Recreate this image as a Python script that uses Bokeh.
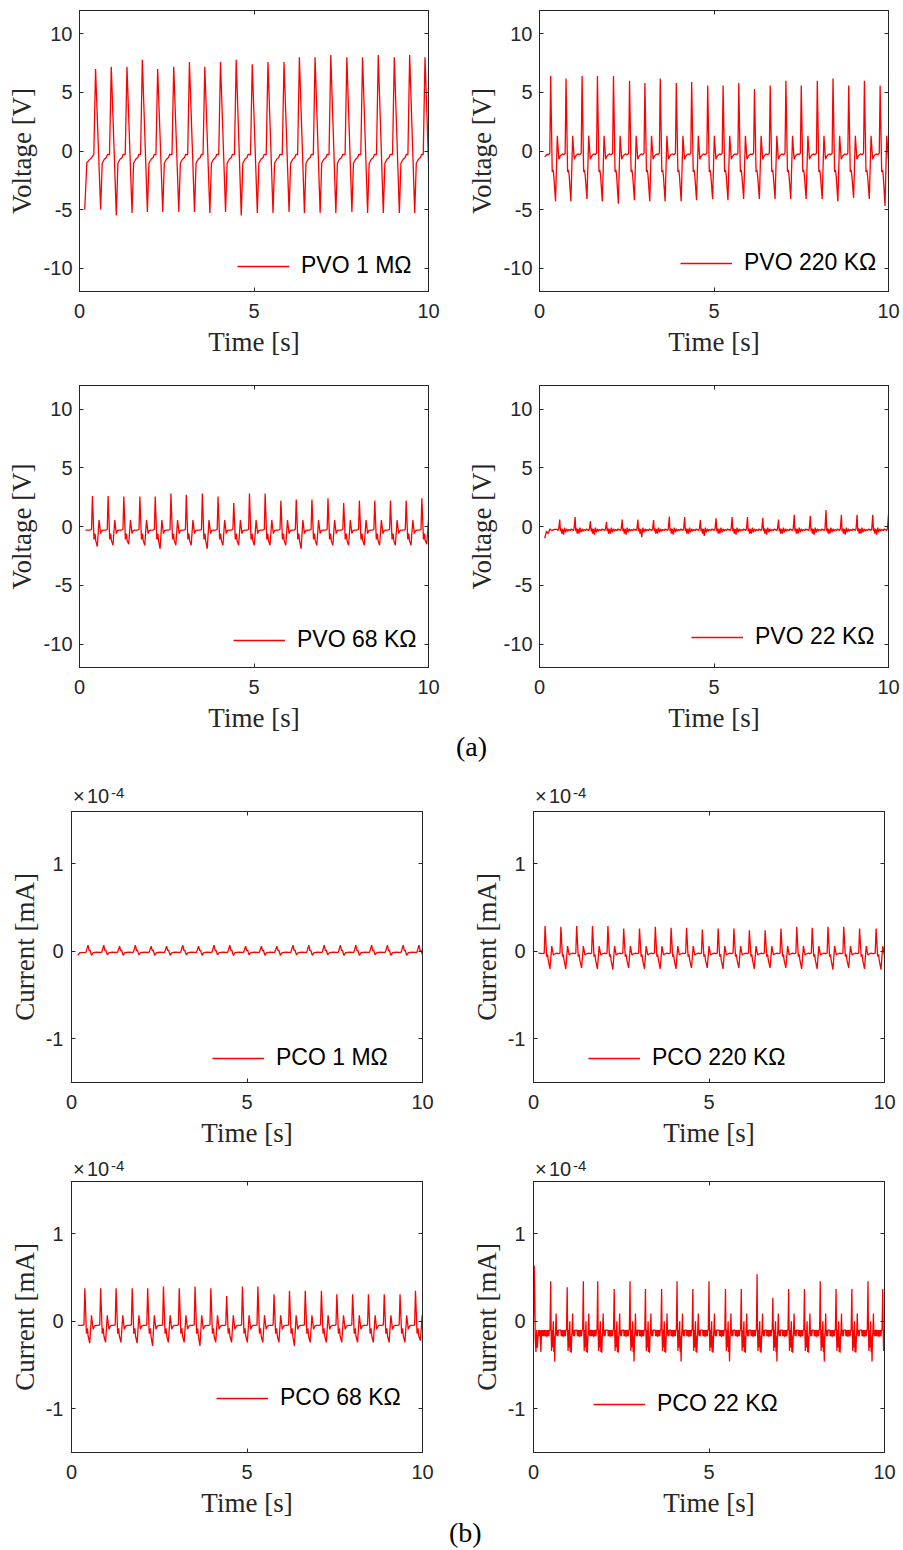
from bokeh.plotting import figure
from bokeh.models import Range1d, FixedTicker, LinearAxis, Legend, LegendItem, Div
from bokeh.layouts import column, row
from bokeh.embed import file_html
from bokeh.resources import INLINE

# ---------------- axis ticks ----------------
X_TICKS = [0, 5, 10]
V_TICKS = [-10, -5, 0, 5, 10]
I_TICKS = [-1, 0, 1]          # current in units of 1e-4 mA
V_RANGE = (-12, 12)
I_RANGE = (-1.5, 1.6)

# ---------------- Panel 1: PVO 1 MOhm (V) ----------------
P1_LABEL = "PVO 1 MΩ"
P1_PEAK_T = [0.46, 0.91, 1.36, 1.80, 2.24, 2.70, 3.15, 3.59, 4.04, 4.49, 4.95, 5.40, 5.86, 6.30, 6.75, 7.20, 7.66, 8.11, 8.56, 9.02, 9.46, 9.90]
P1_PEAK_V = [7.0, 7.2, 7.2, 7.8, 7.0, 7.2, 7.6, 7.2, 7.6, 7.8, 7.4, 7.6, 7.6, 8.0, 8.0, 8.2, 8.0, 8.0, 8.2, 8.0, 8.2, 8.0]
P1_TROUGH_V = [-5.0, -5.5, -5.3, -5.2, -5.2, -5.2, -5.2, -5.3, -5.2, -5.5, -5.3, -5.3, -5.2, -5.3, -5.3, -5.3, -5.2, -5.3, -5.3, -5.3, -5.3]
P1_SHAPE_DT = [-0.05, 0.0, 0.145, 0.19, 0.25, 0.31, 0.34]
P1_SHAPE_V = [-0.3, "peak", "trough", -1.05, -0.7, -0.55, -0.3]
P1_START_T = [0.15, 0.21, 0.27, 0.35]
P1_START_V = [-5.0, -1.0, -0.8, -0.55]
P1_END_T = [10.0]
P1_END_V = [-1.0]

# ---------------- Panel 2: PVO 220 KOhm (V) ----------------
P2_LABEL = "PVO 220 KΩ"
P2_PEAK_T = [0.32, 0.76, 1.22, 1.66, 2.12, 2.58, 3.02, 3.46, 3.92, 4.36, 4.82, 5.26, 5.71, 6.16, 6.61, 7.06, 7.50, 7.96, 8.41, 8.86, 9.31, 9.76]
P2_PEAK_V = [6.4, 6.2, 6.4, 6.4, 6.4, 6.0, 5.8, 6.2, 5.8, 5.9, 5.6, 5.6, 5.8, 5.3, 5.6, 6.0, 5.6, 6.0, 6.2, 5.6, 6.0, 5.6]
P2_TROUGH_V = [-4.3, -4.3, -4.1, -4.3, -4.5, -4.2, -4.3, -4.3, -4.3, -4.2, -4.1, -4.2, -4.1, -4.1, -4.1, -4.1, -4.1, -4.1, -4.3, -4.0, -4.1, -4.7]
P2_SHAPE_DT = [-0.06, -0.025, 0.0, 0.045, 0.07, 0.09, 0.14, 0.19, 0.235, 0.27, 0.30, 0.34, 0.37]
P2_SHAPE_V = [-0.3, -0.2, "peak", -1.8, -1.6, -2.1, "trough", 1.3, -0.7, -0.45, -0.35, -0.25, -0.3]
P2_START_T = [0.15, 0.21]
P2_START_V = [-0.5, -0.3]
P2_END_T = []
P2_END_V = []

# ---------------- Panel 3: PVO 68 KOhm (V) ----------------
P3_LABEL = "PVO 68 KΩ"
P3_PEAK_T = [0.37, 0.82, 1.27, 1.73, 2.17, 2.62, 3.06, 3.52, 3.97, 4.42, 4.87, 5.32, 5.77, 6.21, 6.66, 7.12, 7.57, 8.02, 8.46, 8.91, 9.36, 9.81]
P3_PEAK_V = [2.6, 2.6, 2.55, 2.55, 2.55, 2.8, 2.7, 2.8, 2.55, 2.0, 2.8, 2.8, 2.2, 2.3, 2.3, 2.4, 2.0, 2.2, 2.2, 2.2, 2.2, 2.4]
P3_TROUGH_V = [-1.7, -1.6, -1.5, -1.6, -1.9, -1.6, -1.6, -1.9, -1.6, -1.6, -1.6, -1.6, -1.6, -1.9, -1.6, -1.6, -1.6, -1.6, -1.6, -1.6, -1.6, -1.5]
P3_SHAPE_DT = [-0.06, -0.025, 0.0, 0.045, 0.075, 0.095, 0.14, 0.19, 0.235, 0.27, 0.32, 0.37]
P3_SHAPE_V = [-0.3, -0.25, "peak", -1.1, -0.6, -1.2, "trough", 0.55, -0.6, -0.35, -0.3, -0.3]
P3_START_T = [0.17]
P3_START_V = [-0.3]
P3_END_T = []
P3_END_V = []

# ---------------- Panel 4: PVO 22 KOhm (V) ----------------
P4_LABEL = "PVO 22 KΩ"
P4_PEAK_T = [0.58, 1.02, 1.46, 1.92, 2.37, 2.82, 3.27, 3.72, 4.16, 4.61, 5.06, 5.52, 5.96, 6.40, 6.85, 7.30, 7.76, 8.21, 8.65, 9.10, 9.55, 10.0]
P4_PEAK_V = [0.6, 0.8, 0.45, 0.4, 0.6, 0.6, 0.55, 0.85, 0.8, 0.55, 0.7, 0.8, 0.8, 0.75, 0.6, 1.0, 0.9, 1.4, 1.0, 1.0, 1.0, 1.0]
P4_TROUGH_V = [-0.7, -0.6, -0.7, -0.6, -0.7, -0.9, -0.6, -0.7, -0.6, -0.8, -0.6, -0.7, -0.6, -0.7, -0.6, -0.6, -0.7, -0.6, -0.7, -0.6, -0.7, -0.6]
P4_SHAPE_DT = [-0.08, -0.05, -0.03, 0.0, 0.02, 0.04, 0.06, 0.085, 0.11, 0.14, 0.17, 0.2, 0.23, 0.26, 0.3, 0.33, 0.36]
P4_SHAPE_V = [-0.25, -0.35, -0.2, "peak", -0.4, -0.15, -0.6, -0.2, "trough", -0.1, -0.5, -0.2, -0.4, -0.25, -0.35, -0.2, -0.3]
P4_START_T = [0.15, 0.2, 0.25, 0.3, 0.35, 0.42]
P4_START_V = [-1.0, -0.4, -0.6, -0.2, -0.35, -0.25]
P4_END_T = []
P4_END_V = []

# ---------------- Panel 5: PCO 1 MOhm (x1e-4 mA) ----------------
P5_LABEL = "PCO 1 MΩ"
P5_PEAK_T = [0.47, 0.92, 1.37, 1.82, 2.27, 2.71, 3.17, 3.62, 4.06, 4.51, 4.96, 5.41, 5.85, 6.31, 6.76, 7.20, 7.66, 8.10, 8.55, 9.00, 9.45, 9.90]
P5_PEAK_V = [0.07, 0.07, 0.06, 0.07, 0.06, 0.06, 0.07, 0.06, 0.07, 0.07, 0.06, 0.06, 0.06, 0.07, 0.07, 0.07, 0.07, 0.07, 0.07, 0.07, 0.07, 0.07]
P5_TROUGH_V = [-0.045, -0.04, -0.045, -0.04, -0.045, -0.045, -0.04, -0.045, -0.04, -0.045, -0.04, -0.045, -0.045, -0.04, -0.045, -0.04, -0.045, -0.045, -0.04, -0.045, -0.045, -0.04]
P5_SHAPE_DT = [-0.06, 0.0, 0.035, 0.055, 0.1, 0.15, 0.25, 0.35]
P5_SHAPE_V = [-0.012, "peak", 0.005, 0.015, "trough", -0.015, -0.01, -0.012]
P5_START_T = [0.18, 0.24]
P5_START_V = [-0.045, -0.015]
P5_END_T = []
P5_END_V = []

# ---------------- Panel 6: PCO 220 KOhm (x1e-4 mA) ----------------
P6_LABEL = "PCO 220 KΩ"
P6_PEAK_T = [0.33, 0.78, 1.23, 1.68, 2.12, 2.57, 3.02, 3.47, 3.92, 4.36, 4.81, 5.26, 5.71, 6.15, 6.60, 7.05, 7.50, 7.94, 8.39, 8.84, 9.29, 9.76]
P6_PEAK_V = [0.29, 0.28, 0.29, 0.29, 0.29, 0.26, 0.26, 0.28, 0.27, 0.27, 0.25, 0.26, 0.26, 0.24, 0.24, 0.26, 0.28, 0.27, 0.28, 0.28, 0.26, 0.26]
P6_TROUGH_V = [-0.2, -0.2, -0.19, -0.2, -0.21, -0.19, -0.2, -0.2, -0.2, -0.19, -0.19, -0.2, -0.19, -0.2, -0.19, -0.19, -0.2, -0.2, -0.21, -0.19, -0.2, -0.21]
P6_SHAPE_DT = [-0.06, -0.025, 0.0, 0.045, 0.07, 0.09, 0.14, 0.19, 0.235, 0.27, 0.30, 0.34, 0.37]
P6_SHAPE_V = [-0.025, -0.02, "peak", -0.06, -0.035, -0.1, "trough", 0.06, -0.04, -0.03, -0.025, -0.02, -0.025]
P6_START_T = [0.14]
P6_START_V = [-0.02]
P6_END_T = []
P6_END_V = []

# ---------------- Panel 7: PCO 68 KOhm (x1e-4 mA) ----------------
P7_LABEL = "PCO 68 KΩ"
P7_PEAK_T = [0.38, 0.83, 1.27, 1.73, 2.17, 2.62, 3.07, 3.52, 3.97, 4.42, 4.87, 5.31, 5.77, 6.21, 6.66, 7.12, 7.56, 8.01, 8.46, 8.91, 9.36, 9.80]
P7_PEAK_V = [0.38, 0.38, 0.38, 0.38, 0.38, 0.40, 0.38, 0.40, 0.38, 0.29, 0.40, 0.40, 0.31, 0.35, 0.35, 0.35, 0.31, 0.31, 0.31, 0.31, 0.31, 0.35]
P7_TROUGH_V = [-0.25, -0.24, -0.24, -0.25, -0.28, -0.24, -0.24, -0.28, -0.24, -0.24, -0.24, -0.24, -0.24, -0.28, -0.24, -0.24, -0.24, -0.24, -0.24, -0.24, -0.24, -0.22]
P7_SHAPE_DT = [-0.06, -0.025, 0.0, 0.045, 0.075, 0.095, 0.14, 0.19, 0.235, 0.27, 0.32, 0.37]
P7_SHAPE_V = [-0.045, -0.04, "peak", -0.14, -0.08, -0.17, "trough", 0.07, -0.09, -0.055, -0.045, -0.045]
P7_START_T = [0.18]
P7_START_V = [-0.045]
P7_END_T = []
P7_END_V = []

# ---------------- Panel 8: PCO 22 KOhm (x1e-4 mA) ----------------
P8_LABEL = "PCO 22 KΩ"
P8_PEAK_T = [0.49, 0.96, 1.42, 1.83, 2.30, 2.75, 3.19, 3.65, 4.09, 4.54, 5.00, 5.47, 5.92, 6.37, 6.82, 7.27, 7.72, 8.17, 8.62, 9.07, 9.53, 9.95]
P8_PEAK_V = [0.46, 0.39, 0.46, 0.46, 0.37, 0.46, 0.37, 0.37, 0.46, 0.37, 0.46, 0.37, 0.37, 0.54, 0.27, 0.37, 0.37, 0.46, 0.37, 0.37, 0.46, 0.37]
P8_TROUGH_V = [-0.46, -0.36, -0.36, -0.36, -0.36, -0.46, -0.36, -0.36, -0.46, -0.36, -0.36, -0.46, -0.36, -0.36, -0.46, -0.36, -0.36, -0.46, -0.36, -0.36, -0.46, -0.36]
P8_SHAPE_DT = [-0.18, -0.17, -0.155, -0.145, -0.13, -0.12, -0.105, -0.09, -0.08, -0.065, -0.05, -0.04, -0.02,
               0.0, 0.012, 0.025, 0.035, 0.05, 0.06, 0.075, 0.09, 0.1, 0.115, 0.13, 0.14, 0.155, 0.165, 0.18, 0.195, 0.21, 0.22]
P8_SHAPE_V = [-0.1, -0.17, -0.1, -0.17, -0.1, -0.17, -0.17, -0.1, -0.17, -0.1, -0.17, -0.1, -0.1,
              "peak", -0.1, -0.34, -0.1, -0.3, -0.17, 0.0, -0.35, -0.17, "trough", -0.17, -0.1, 0.09, -0.1, -0.17, -0.1, -0.17, -0.1]
P8_START_T = [0.0, 0.02, 0.035, 0.05, 0.07, 0.09, 0.11, 0.13, 0.15, 0.17, 0.19, 0.21, 0.23, 0.25, 0.27, 0.29]
P8_START_V = [0.0, 0.64, 0.36, -0.2, -0.35, -0.1, -0.3, -0.17, -0.1, -0.17, -0.1, -0.35, -0.1, -0.17, -0.1, -0.17]
P8_END_T = []
P8_END_V = []

# ---------------- styling ----------------
RED = "#ff0000"
AX = "#262626"
SANS = "Liberation Sans"
SERIF = "Liberation Serif"


def build_trace(start_t, start_v, peak_t, peak_v, trough_v, shape_dt, shape_v, end_t, end_v, t_end=10.0):
    ts = list(start_t)
    vs = list(start_v)
    for i, tp in enumerate(peak_t):
        for dt, lv in zip(shape_dt, shape_v):
            t = tp + dt
            if t > t_end + 1e-9:
                continue
            if lv == "peak":
                v = peak_v[i]
            elif lv == "trough":
                if i >= len(trough_v):
                    continue
                v = trough_v[i]
            else:
                v = lv
            ts.append(round(t, 4))
            vs.append(v)
    ts += list(end_t)
    vs += list(end_v)
    return ts, vs


def style_axis(ax, ticks, label, tick_standoff, label_standoff):
    ax.ticker = FixedTicker(ticks=ticks)
    ax.major_label_overrides = {t: str(t) for t in ticks}
    ax.major_tick_in = 4
    ax.major_tick_out = 0
    ax.minor_tick_line_color = None
    ax.axis_line_color = AX
    ax.major_tick_line_color = AX
    ax.major_label_text_font = SANS
    ax.major_label_text_font_size = "20px"
    ax.major_label_text_color = AX
    ax.major_label_standoff = tick_standoff
    ax.axis_label = label
    ax.axis_label_text_font = SERIF
    ax.axis_label_text_font_size = "27px"
    ax.axis_label_text_font_style = "normal"
    ax.axis_label_text_color = AX
    ax.axis_label_standoff = label_standoff


def bare_axis(ticks):
    return LinearAxis(ticker=FixedTicker(ticks=ticks), major_label_text_font_size="0px",
                      major_label_text_alpha=0, major_label_standoff=0,
                      major_tick_in=4, major_tick_out=0, minor_tick_line_color=None,
                      axis_line_color=AX, major_tick_line_color=AX)


def make_panel(width, height, borders, yrange, yticks, ylabel, trace, label, leg_xy,
               ytick_standoff, ylabel_standoff):
    left, right, top, bottom = borders
    p = figure(width=width, height=height, output_backend="svg", toolbar_location=None,
               x_range=Range1d(0, 10), y_range=Range1d(*yrange),
               min_border_left=left, min_border_right=right,
               min_border_top=top, min_border_bottom=bottom)
    p.grid.visible = False
    p.outline_line_color = AX
    p.background_fill_color = "white"
    p.border_fill_color = "white"
    r = p.line(trace[0], trace[1], line_color=RED, line_width=1.3)
    style_axis(p.xaxis[0], X_TICKS, "Time [s]", 12, 6)
    style_axis(p.yaxis[0], yticks, ylabel, ytick_standoff, ylabel_standoff)
    p.add_layout(bare_axis(yticks), "right")
    p.add_layout(bare_axis(X_TICKS), "above")
    leg = Legend(items=[LegendItem(label=label, renderers=[r])], location=leg_xy,
                 border_line_alpha=0, background_fill_alpha=0, padding=0, margin=0, spacing=0,
                 glyph_width=52, glyph_height=26, label_height=26, label_standoff=12,
                 label_text_font=SANS, label_text_font_size="23px", label_text_color="#000000")
    p.add_layout(leg)
    return p


t1 = build_trace(P1_START_T, P1_START_V, P1_PEAK_T, P1_PEAK_V, P1_TROUGH_V, P1_SHAPE_DT, P1_SHAPE_V, P1_END_T, P1_END_V)
t2 = build_trace(P2_START_T, P2_START_V, P2_PEAK_T, P2_PEAK_V, P2_TROUGH_V, P2_SHAPE_DT, P2_SHAPE_V, P2_END_T, P2_END_V)
t3 = build_trace(P3_START_T, P3_START_V, P3_PEAK_T, P3_PEAK_V, P3_TROUGH_V, P3_SHAPE_DT, P3_SHAPE_V, P3_END_T, P3_END_V)
t4 = build_trace(P4_START_T, P4_START_V, P4_PEAK_T, P4_PEAK_V, P4_TROUGH_V, P4_SHAPE_DT, P4_SHAPE_V, P4_END_T, P4_END_V)
t5 = build_trace(P5_START_T, P5_START_V, P5_PEAK_T, P5_PEAK_V, P5_TROUGH_V, P5_SHAPE_DT, P5_SHAPE_V, P5_END_T, P5_END_V)
t6 = build_trace(P6_START_T, P6_START_V, P6_PEAK_T, P6_PEAK_V, P6_TROUGH_V, P6_SHAPE_DT, P6_SHAPE_V, P6_END_T, P6_END_V)
t7 = build_trace(P7_START_T, P7_START_V, P7_PEAK_T, P7_PEAK_V, P7_TROUGH_V, P7_SHAPE_DT, P7_SHAPE_V, P7_END_T, P7_END_V)
t8 = build_trace(P8_START_T, P8_START_V, P8_PEAK_T, P8_PEAK_V, P8_TROUGH_V, P8_SHAPE_DT, P8_SHAPE_V, P8_END_T, P8_END_V)

WL, WR = 460, 443
p1 = make_panel(WL, 370, (79, 32, 10, 79), V_RANGE, V_TICKS, "Voltage [V]", t1, P1_LABEL, (158, 12), 7, 4)
p2 = make_panel(WR, 370, (79, 15, 10, 79), V_RANGE, V_TICKS, "Voltage [V]", t2, P2_LABEL, (141, 15), 7, 4)
p3 = make_panel(WL, 369, (79, 32, 15, 72), V_RANGE, V_TICKS, "Voltage [V]", t3, P3_LABEL, (154, 14), 7, 4)
p4 = make_panel(WR, 369, (79, 15, 15, 72), V_RANGE, V_TICKS, "Voltage [V]", t4, P4_LABEL, (152, 17), 7, 4)
p5 = make_panel(WL, 348, (71, 38, 3, 74), I_RANGE, I_TICKS, "Current [mA]", t5, P5_LABEL, (141, 11), 8, 3)
p6 = make_panel(WR, 348, (73, 19, 3, 74), I_RANGE, I_TICKS, "Current [mA]", t6, P6_LABEL, (55, 11), 8, 3)
p7 = make_panel(WL, 346, (71, 38, 3, 72), I_RANGE, I_TICKS, "Current [mA]", t7, P7_LABEL, (145, 41), 8, 3)
p8 = make_panel(WR, 346, (73, 19, 3, 72), I_RANGE, I_TICKS, "Current [mA]", t8, P8_LABEL, (60, 35), 8, 3)


def span(text, left, top, size, family, color):
    return ("<span style=\"position:absolute; left:%dpx; top:%dpx; font-family:'%s'; font-size:%dpx; "
            "line-height:%dpx; color:%s; white-space:nowrap;\">%s</span>" % (left, top, family, size, size if size < 25 else 20, color, text))


def mult_spans(x_left, top):
    # "x10^-4" exponent marker of a current panel, placed relative to its frame's left edge
    return (span("×", x_left + 2, top + 1, 20, SANS, AX) +
            span("10", x_left + 16, top + 1, 20, SANS, AX) +
            span("-4", x_left + 40, top, 15, SANS, AX))


def overlay(height, inner):
    html = "<div style=\"position:relative; width:903px; height:%dpx; overflow:visible;\">%s</div>" % (height, inner)
    return Div(text=html, width=903, height=height, margin=(0, 0, 0, 0), styles={"overflow": "visible"})


# caption (a) + exponent markers of row 3 (div spans y 739..808)
div_a = overlay(69, span("(a)", 456, -2, 28, SERIF, "#000000") + mult_spans(71, 46) + mult_spans(533, 46))
# exponent markers of row 4 (div spans y 1156..1178)
div_c = overlay(22, mult_spans(71, 2) + mult_spans(533, 2))
# caption (b) (div spans y 1524..1550)
div_b = overlay(26, span("(b)", 449, -1, 28, SERIF, "#000000"))

layout = column(row(p1, p2), row(p3, p4), div_a, row(p5, p6), div_c, row(p7, p8), div_b)

open("out.html", "w").write(file_html(layout, INLINE))
